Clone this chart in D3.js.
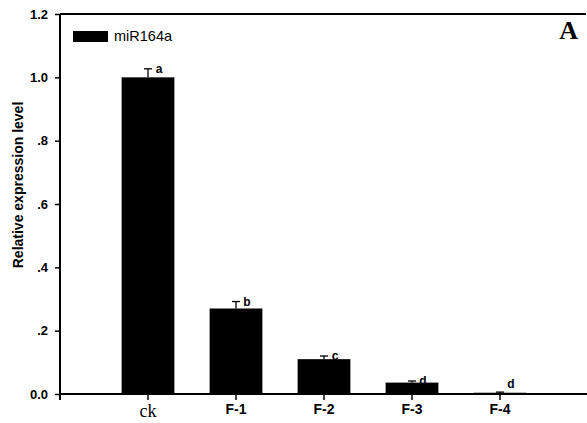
<!DOCTYPE html>
<html>
<head>
<meta charset="utf-8">
<script src="https://cdn.jsdelivr.net/npm/d3@7"></script>
<style>
  body { margin: 0; background: #fff; }
  svg { display: block; }
</style>
</head>
<body>
<div id="chart-container"></div>
<script>
// Chart data
const categories = ['ck', 'F-1', 'F-2', 'F-3', 'F-4'];
const values = [1.0, 0.27, 0.11, 0.036, 0.004];
const errors = [0.027, 0.022, 0.01, 0.005, 0.002];
const letters = ['a', 'b', 'c', 'd', 'd'];
const yTicks = [0, 0.2, 0.4, 0.6, 0.8, 1.0, 1.2];
const yTickLabels = ['0.0', '.2', '.4', '.6', '.8', '1.0', '1.2'];
const seriesName = 'miR164a';

const SANS = 'Arial, "Liberation Sans", sans-serif';
const SERIF = '"Times New Roman", "Liberation Serif", serif';

function renderChart() {
    const container = d3.select('#chart-container');
    container.selectAll('*').remove();

    const width = 587;
    const height = 423;
    const left = 60, right = 587, top = 14, bottom = 394;

    const svg = container.append('svg')
        .attr('width', width)
        .attr('height', height);

    const x = d3.scaleBand()
        .domain(categories)
        .range([104, 544])
        .paddingInner(0.4)
        .paddingOuter(0.2);

    const y = d3.scaleLinear()
        .domain([0, 1.2])
        .range([bottom, top]);

    // bars
    svg.selectAll('rect.bar')
        .data(values)
        .enter()
        .append('rect')
        .attr('class', 'bar')
        .attr('x', (d, i) => x(categories[i]))
        .attr('y', d => y(d))
        .attr('width', x.bandwidth())
        .attr('height', d => bottom - y(d))
        .attr('fill', '#000');

    // error bars (upper only)
    const err = svg.append('g')
        .attr('stroke', '#000')
        .attr('stroke-width', 1.3);
    values.forEach((v, i) => {
        const cx = x(categories[i]) + x.bandwidth() / 2;
        err.append('line')
            .attr('x1', cx).attr('x2', cx)
            .attr('y1', y(v)).attr('y2', y(v + errors[i]));
        err.append('line')
            .attr('x1', cx - 4).attr('x2', cx + 4)
            .attr('y1', y(v + errors[i])).attr('y2', y(v + errors[i]));
    });

    // significance letters
    svg.selectAll('text.sig')
        .data(letters)
        .enter()
        .append('text')
        .attr('class', 'sig')
        .attr('x', (d, i) => x(categories[i]) + x.bandwidth() / 2 + 11)
        .attr('y', (d, i) => Math.min(y(values[i] + errors[i]) + 4, bottom - 6))
        .attr('text-anchor', 'middle')
        .attr('font-family', SANS)
        .attr('font-weight', 'bold')
        .attr('font-size', 12)
        .text(d => d);

    // y axis
    const yAxis = svg.append('g')
        .attr('transform', `translate(${left},0)`)
        .call(d3.axisLeft(y)
            .tickValues(yTicks)
            .tickFormat((d, i) => yTickLabels[i])
            .tickSize(5)
            .tickPadding(7));
    yAxis.select('.domain').remove();
    yAxis.selectAll('.tick line').attr('stroke-width', 1.5);
    yAxis.selectAll('text')
        .attr('font-family', SANS)
        .attr('font-weight', 'bold')
        .attr('font-size', 13)
        .attr('fill', '#000');

    // x axis
    const xAxis = svg.append('g')
        .attr('transform', `translate(0,${bottom})`)
        .call(d3.axisBottom(x).tickSize(6).tickPadding(4));
    xAxis.select('.domain').remove();
    xAxis.selectAll('.tick line').attr('stroke-width', 1.5);
    xAxis.selectAll('text')
        .attr('fill', '#000')
        .attr('font-family', d => d === 'ck' ? SERIF : SANS)
        .attr('font-weight', d => d === 'ck' ? 'normal' : 'bold')
        .attr('font-size', d => d === 'ck' ? 18 : 14);

    // frame lines: left, bottom, top
    const frame = svg.append('g').attr('stroke', '#000').attr('stroke-width', 2);
    frame.append('line').attr('x1', left).attr('x2', left).attr('y1', top).attr('y2', bottom + 6);
    frame.append('line').attr('x1', left).attr('x2', right).attr('y1', bottom).attr('y2', bottom);
    frame.append('line').attr('x1', left).attr('x2', right - 1).attr('y1', top).attr('y2', top);

    // y label
    svg.append('text')
        .attr('transform', 'translate(23,185) rotate(-90)')
        .attr('text-anchor', 'middle')
        .attr('font-family', SANS)
        .attr('font-weight', 'bold')
        .attr('font-size', 14)
        .text('Relative expression level');

    // legend
    svg.append('rect')
        .attr('x', 73).attr('y', 31)
        .attr('width', 35).attr('height', 11)
        .attr('fill', '#000');
    svg.append('text')
        .attr('x', 114).attr('y', 41)
        .attr('font-family', SANS)
        .attr('font-size', 14.5)
        .text(seriesName);

    // panel letter
    svg.append('text')
        .attr('x', 578).attr('y', 39)
        .attr('text-anchor', 'end')
        .attr('font-family', SERIF)
        .attr('font-weight', 'bold')
        .attr('font-size', 26)
        .text('A');
}

renderChart();
</script>
</body>
</html>
